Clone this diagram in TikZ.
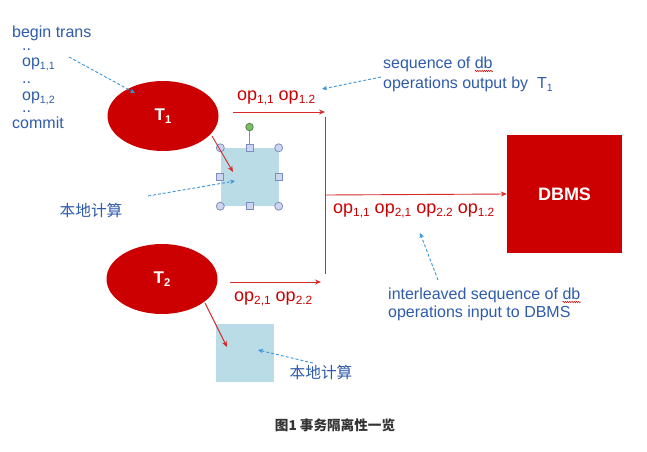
\documentclass[tikz,border=0pt]{standalone}
\usepackage{fontspec}
\usepackage{graphicx}
\setmainfont{Liberation Sans}
\newfontfamily\cjk{Noto Sans CJK SC}
\usetikzlibrary{shapes.geometric,arrows.meta,decorations.pathmorphing}
\newcommand\sbs[1]{\raisebox{-0.38ex}{\scalebox{0.66}{#1}}}
\definecolor{tred}{HTML}{CC0000}
\definecolor{lred}{HTML}{D42A2A}
\definecolor{tblue}{HTML}{2F5CAA}
\definecolor{dblue}{HTML}{3A95D8}
\definecolor{boxblue}{HTML}{B9DCE6}
\definecolor{hfill}{HTML}{CDD6EE}
\definecolor{hdraw}{HTML}{7C8DBF}
\definecolor{hgreen}{HTML}{7DBE6A}
\tikzset{
  trans/.style={ellipse, fill=tred, draw=none, minimum width=111pt, minimum height=70pt, text=white, font=\fontsize{17}{17}\selectfont\bfseries},
  dbms/.style={rectangle, fill=tred, draw=none, minimum width=115pt, minimum height=118pt, text=white, font=\fontsize{18}{18}\selectfont\bfseries},
  localbox/.style={rectangle, fill=boxblue, draw=none, minimum width=58pt, minimum height=58pt},
  redarrow/.style={draw=lred, line width=0.9pt, -{Stealth[length=6pt,width=5pt]}},
  redline/.style={draw=lred, line width=0.9pt},
  bluenote/.style={draw=dblue, line width=0.9pt, dash pattern=on 3pt off 2pt, -{Stealth[length=5pt,width=4.5pt]}},
  btext/.style={text=tblue, font=\fontsize{16}{18}\selectfont, inner sep=0pt},
  dots/.style={btext, text height=2pt, text depth=0pt},
  rtext/.style={text=tred, font=\fontsize{18}{20}\selectfont, inner sep=0pt},
  ctext/.style={text=tblue, font=\cjk\fontsize{15.7}{17}\selectfont, inner sep=0pt},
  hcirc/.style={circle, fill=hfill, draw=hdraw, line width=0.8pt, minimum size=8pt, inner sep=0pt},
  hsq/.style={rectangle, fill=hfill, draw=hdraw, line width=0.8pt, minimum size=7pt, inner sep=0pt},
  squig/.style={draw=red!80!black, line width=0.5pt, decorate, decoration={snake, amplitude=0.7pt, segment length=2.2pt}}
}
\begin{document}
\begin{tikzpicture}[x=1pt,y=-1pt]
\useasboundingbox[fill=white] (0,0) rectangle (647,451);

% transactions
\node[trans] (t1) at (163,116) {T\sbs{1}};
\node[trans] (t2) at (162,279) {T\sbs{2}};

% local computation boxes
\node[localbox] (b1) at (249.5,177) {};
\node[localbox] (b2) at (245,353) {};

% selection handles on box 1
\node[hcirc] (h1) at (b1.north west) {};
\node[hcirc] (h2) at (b1.north east) {};
\node[hcirc] (h3) at (b1.south west) {};
\node[hcirc] (h4) at (b1.south east) {};
\node[circle, fill=hgreen, draw=hgreen!70!black, line width=0.8pt, minimum size=7.5pt, inner sep=0pt] (hg) at (249.5,127) {};
\draw[hdraw, line width=0.8pt] (hg) -- (b1.north);
\node[hsq] (h5) at (b1.north) {};
\node[hsq] (h6) at (b1.south) {};
\node[hsq] (h7) at (b1.west) {};
\node[hsq] (h8) at (b1.east) {};

% DBMS
\node[dbms] (db) at (564.5,194) {DBMS};

% red flow
\coordinate (a1s) at (233,112);
\coordinate (a1e) at (325,112);
\coordinate (a2s) at (230,282);
\coordinate (a2e) at (321,282);
\coordinate (vtop) at (325,117);
\coordinate (vbot) at (325,274);
\coordinate (mid) at (325,195);
\draw[redarrow] (a1s) -- (a1e);
\draw[redarrow] (a2s) -- (a2e);
\draw[redline] (vtop) -- (vbot);
\draw[redarrow] (mid) -- (db.west);
\coordinate (t1o) at (212,136);
\coordinate (c1) at (233,172);
\coordinate (t2o) at (205,303);
\coordinate (c2) at (227,347);
\draw[redarrow] (t1o) -- (c1);
\draw[redarrow] (t2o) -- (c2);

% red op labels
\node[rtext, anchor=base west] (o1) at (237,100) {op\sbs{1,1} op\sbs{1.2}};
\node[rtext, anchor=base west] (o2) at (234,301) {op\sbs{2,1} op\sbs{2.2}};
\node[rtext, anchor=base west] (o3) at (333,213) {op\sbs{1,1} op\sbs{2,1} op\sbs{2.2} op\sbs{1.2}};

% left transaction text
\node[btext, anchor=base west] (l1) at (12,37) {begin trans};
\node[dots, anchor=base west] (l2) at (22,50) {..};
\node[btext, anchor=base west] (l3) at (22,66) {op\sbs{1,1}};
\node[dots, anchor=base west] (l4) at (22,83) {..};
\node[btext, anchor=base west] (l5) at (22,100) {op\sbs{1,2}};
\node[dots, anchor=base west] (l6) at (22,112) {..};
\node[btext, anchor=base west] (l7) at (12,128) {commit};
\coordinate (n1s) at (69,57);
\coordinate (n1e) at (135,93);
\draw[bluenote] (n1s) -- (n1e);

% output note
\node[btext, anchor=base west] (s1) at (383,68) {sequence of db};
\node[btext, anchor=base west] (s2) at (383,88) {operations output by\ \ T\sbs{1}};
\coordinate (n2s) at (381,77);
\coordinate (n2e) at (322,89);
\draw[bluenote] (n2s) -- (n2e);
\draw[squig] (s1.base east) ++(-18,3) -- ++(18,0);

% interleaved note
\node[btext, anchor=base west] (i1) at (388,299) {interleaved sequence of db};
\node[btext, anchor=base west] (i2) at (388,317) {operations input to DBMS};
\coordinate (n3s) at (438,280);
\coordinate (n3e) at (420,233);
\draw[bluenote] (n3s) -- (n3e);
\draw[squig] (i1.base east) ++(-18,3) -- ++(18,0);

% local computation labels
\node[ctext] (k1) at (91,210) {本地计算};
\coordinate (n4s) at (148,196);
\coordinate (n4e) at (235,181);
\draw[bluenote] (n4s) -- (n4e);
\node[ctext] (k2) at (321,372) {本地计算};
\coordinate (n5s) at (313,363);
\coordinate (n5e) at (258,350);
\draw[bluenote] (n5s) -- (n5e);

% caption
\node[text=black!80, font=\cjk\fontsize{13.6}{14}\selectfont\bfseries] (cap) at (335,425) {图1 事务隔离性一览};
\end{tikzpicture}
\end{document}
